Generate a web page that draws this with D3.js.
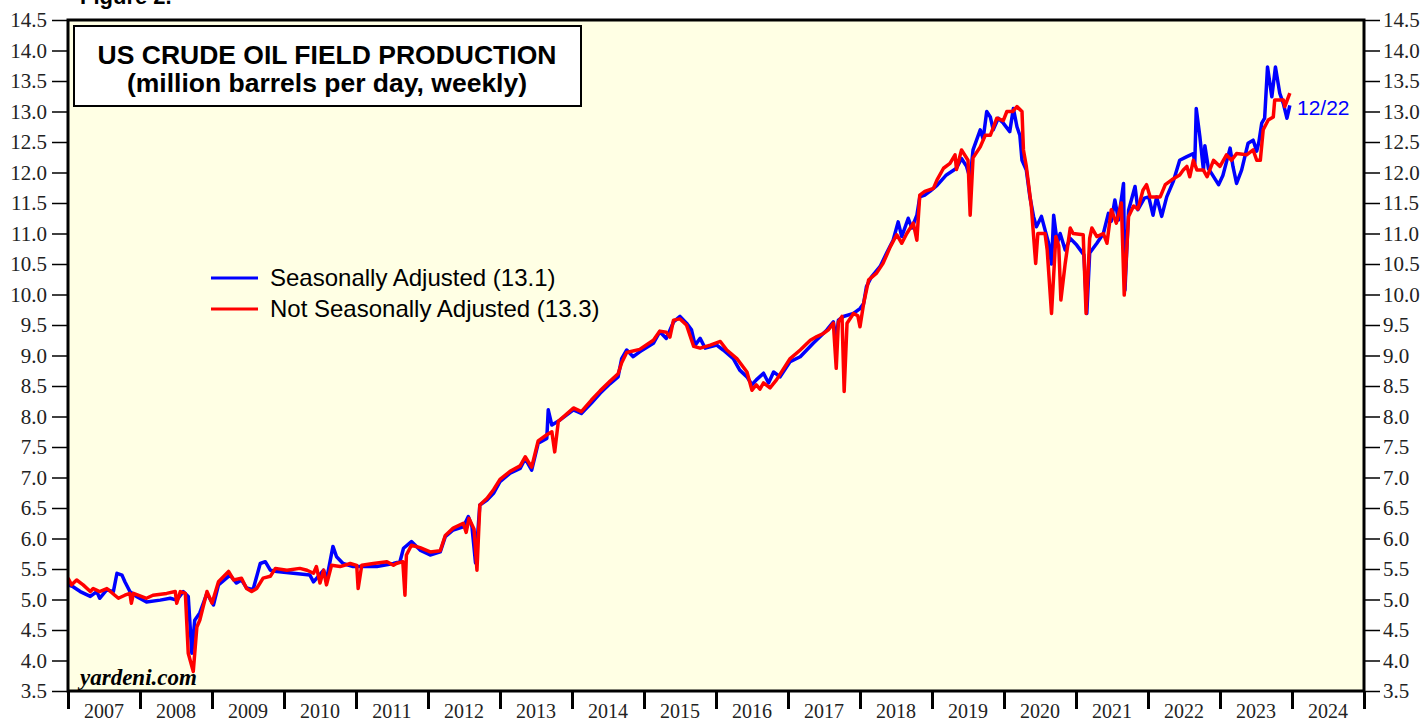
<!DOCTYPE html>
<html>
<head>
<meta charset="utf-8">
<script src="https://cdn.jsdelivr.net/npm/d3@7"></script>
<style>
  html, body { margin: 0; padding: 0; background: #fff; }
  svg { display: block; }
</style>
</head>
<body>
<div id="chart"></div>
<script>
// weekly-ish readings, [decimal year, million b/d]
var saPoints = [
  [2007.00,5.24],[2007.07,5.21],[2007.17,5.13],[2007.31,5.05],[2007.40,5.13],[2007.44,5.02],[2007.54,5.16],
  [2007.63,5.13],[2007.68,5.43],[2007.75,5.40],[2007.79,5.29],[2007.86,5.13],[2007.95,5.05],[2008.09,4.96],
  [2008.28,4.99],[2008.42,5.02],[2008.51,4.99],[2008.60,5.13],[2008.67,5.05],[2008.72,4.12],[2008.76,4.66],
  [2008.83,4.78],[2008.93,5.10],[2009.02,4.91],[2009.09,5.24],[2009.25,5.40],[2009.34,5.27],[2009.41,5.32],
  [2009.48,5.19],[2009.57,5.16],[2009.67,5.59],[2009.74,5.62],[2009.81,5.48],[2009.90,5.46],[2010.13,5.43],
  [2010.36,5.40],[2010.41,5.29],[2010.55,5.48],[2010.59,5.32],[2010.68,5.87],[2010.73,5.70],[2010.82,5.59],
  [2010.96,5.54],[2011.29,5.54],[2011.52,5.59],[2011.61,5.62],[2011.66,5.84],[2011.77,5.95],[2011.89,5.81],
  [2012.03,5.73],[2012.17,5.78],[2012.24,6.03],[2012.35,6.14],[2012.49,6.19],[2012.56,6.36],[2012.61,6.20],
  [2012.66,5.60],[2012.72,6.55],[2012.82,6.63],[2012.91,6.74],[2013.00,6.93],[2013.14,7.07],[2013.28,7.15],
  [2013.35,7.31],[2013.44,7.12],[2013.53,7.56],[2013.65,7.64],[2013.67,8.11],[2013.72,7.86],[2013.83,7.94],
  [2014.02,8.11],[2014.13,8.05],[2014.27,8.22],[2014.39,8.38],[2014.53,8.54],[2014.64,8.65],[2014.69,8.95],
  [2014.76,9.09],[2014.85,8.98],[2014.94,9.06],[2015.13,9.20],[2015.22,9.39],[2015.31,9.28],[2015.41,9.55],
  [2015.50,9.64],[2015.59,9.53],[2015.66,9.42],[2015.71,9.17],[2015.78,9.28],[2015.85,9.12],[2016.01,9.17],
  [2016.10,9.09],[2016.24,8.95],[2016.33,8.76],[2016.43,8.65],[2016.50,8.52],[2016.56,8.60],[2016.66,8.71],
  [2016.73,8.55],[2016.80,8.73],[2016.89,8.65],[2017.03,8.90],[2017.17,8.98],[2017.35,9.20],[2017.54,9.42],
  [2017.63,9.55],[2017.67,9.25],[2017.70,9.58],[2017.77,9.64],[2017.91,9.69],[2018.00,9.77],[2018.05,9.85],
  [2018.09,10.13],[2018.16,10.29],[2018.28,10.46],[2018.37,10.68],[2018.46,10.89],[2018.53,11.19],[2018.58,10.95],
  [2018.67,11.25],[2018.72,11.09],[2018.79,11.30],[2018.83,11.60],[2018.90,11.63],[2018.97,11.69],[2019.07,11.79],
  [2019.20,11.96],[2019.34,12.07],[2019.41,12.23],[2019.48,12.10],[2019.53,11.90],[2019.57,12.37],[2019.67,12.70],
  [2019.71,12.55],[2019.76,13.00],[2019.81,12.91],[2019.85,12.70],[2019.92,12.89],[2019.99,12.81],[2020.08,12.67],
  [2020.13,13.05],[2020.18,12.75],[2020.22,12.61],[2020.25,12.20],[2020.31,12.04],[2020.36,11.60],[2020.41,11.28],
  [2020.45,11.11],[2020.52,11.28],[2020.57,11.06],[2020.62,10.84],[2020.66,10.50],[2020.69,11.30],[2020.74,10.84],
  [2020.78,11.00],[2020.85,10.73],[2020.92,10.92],[2021.01,10.81],[2021.11,10.65],[2021.15,9.69],[2021.19,10.68],
  [2021.29,10.84],[2021.38,11.00],[2021.45,11.33],[2021.49,11.20],[2021.54,11.55],[2021.59,11.22],[2021.66,11.82],
  [2021.68,10.07],[2021.73,11.38],[2021.82,11.77],[2021.86,11.39],[2021.95,11.58],[2022.01,11.60],[2022.07,11.30],
  [2022.12,11.60],[2022.19,11.28],[2022.26,11.60],[2022.35,11.85],[2022.44,12.20],[2022.54,12.26],[2022.63,12.31],
  [2022.65,12.15],[2022.67,13.05],[2022.72,12.59],[2022.77,12.04],[2022.79,12.44],[2022.84,12.06],[2022.88,11.99],
  [2022.98,11.80],[2023.04,11.95],[2023.14,12.40],[2023.18,12.10],[2023.23,11.82],[2023.30,12.04],[2023.39,12.48],
  [2023.46,12.53],[2023.51,12.35],[2023.54,12.50],[2023.58,12.81],[2023.62,12.89],[2023.66,13.73],[2023.72,13.24],
  [2023.77,13.73],[2023.83,13.30],[2023.88,13.13],[2023.93,12.89],[2023.97,13.10]
];

var nsaPoints = [
  [2007.00,5.35],[2007.05,5.24],[2007.12,5.32],[2007.21,5.24],[2007.31,5.13],[2007.35,5.18],[2007.44,5.13],
  [2007.54,5.18],[2007.65,5.07],[2007.70,5.02],[2007.79,5.07],[2007.86,5.10],[2007.88,4.94],[2007.91,5.10],
  [2008.09,5.02],[2008.18,5.07],[2008.37,5.10],[2008.49,5.13],[2008.51,4.94],[2008.56,5.13],[2008.63,5.10],
  [2008.67,4.12],[2008.74,3.82],[2008.79,4.55],[2008.83,4.66],[2008.93,5.13],[2009.00,4.94],[2009.09,5.29],
  [2009.23,5.46],[2009.30,5.32],[2009.41,5.35],[2009.48,5.18],[2009.55,5.13],[2009.62,5.18],[2009.71,5.35],
  [2009.81,5.38],[2009.88,5.51],[2010.04,5.48],[2010.22,5.51],[2010.32,5.48],[2010.41,5.43],[2010.45,5.54],
  [2010.50,5.27],[2010.55,5.48],[2010.59,5.24],[2010.66,5.56],[2010.78,5.54],[2010.92,5.59],[2011.01,5.56],
  [2011.03,5.18],[2011.08,5.56],[2011.24,5.59],[2011.43,5.62],[2011.52,5.56],[2011.56,5.59],[2011.65,5.62],
  [2011.68,5.07],[2011.70,5.73],[2011.77,5.89],[2011.89,5.85],[2012.03,5.78],[2012.17,5.80],[2012.24,6.05],
  [2012.35,6.17],[2012.49,6.25],[2012.53,6.10],[2012.57,6.33],[2012.64,6.15],[2012.68,5.48],[2012.72,6.55],
  [2012.82,6.66],[2012.91,6.80],[2013.00,6.97],[2013.14,7.10],[2013.28,7.19],[2013.35,7.34],[2013.44,7.17],
  [2013.53,7.60],[2013.65,7.70],[2013.72,7.75],[2013.76,7.42],[2013.81,7.92],[2014.02,8.14],[2014.13,8.08],
  [2014.27,8.27],[2014.39,8.42],[2014.53,8.58],[2014.64,8.70],[2014.69,8.88],[2014.76,9.05],[2014.94,9.10],
  [2015.13,9.25],[2015.22,9.40],[2015.31,9.38],[2015.36,9.30],[2015.41,9.58],[2015.50,9.60],[2015.59,9.50],
  [2015.69,9.15],[2015.78,9.12],[2015.92,9.17],[2016.06,9.23],[2016.15,9.09],[2016.29,8.95],[2016.43,8.73],
  [2016.50,8.43],[2016.56,8.52],[2016.61,8.45],[2016.66,8.55],[2016.75,8.47],[2016.84,8.60],[2017.03,8.95],
  [2017.17,9.09],[2017.31,9.25],[2017.40,9.31],[2017.49,9.36],[2017.56,9.42],[2017.63,9.53],[2017.67,8.79],
  [2017.70,9.55],[2017.75,9.64],[2017.78,8.41],[2017.82,9.53],[2017.91,9.69],[2017.97,9.65],[2018.00,9.47],
  [2018.05,9.85],[2018.12,10.24],[2018.23,10.35],[2018.32,10.51],[2018.42,10.78],[2018.51,10.98],[2018.58,10.84],
  [2018.65,11.00],[2018.74,11.17],[2018.79,10.89],[2018.83,11.63],[2018.90,11.69],[2019.02,11.74],[2019.07,11.88],
  [2019.16,12.07],[2019.25,12.15],[2019.32,12.29],[2019.34,12.05],[2019.41,12.37],[2019.50,12.20],[2019.53,11.30],
  [2019.57,12.24],[2019.67,12.42],[2019.74,12.61],[2019.81,12.61],[2019.90,12.89],[2019.99,12.85],[2020.04,13.00],
  [2020.12,13.00],[2020.18,13.08],[2020.25,13.00],[2020.27,12.37],[2020.31,12.10],[2020.38,11.44],[2020.44,10.51],
  [2020.47,11.00],[2020.57,11.00],[2020.60,10.73],[2020.66,9.69],[2020.72,10.95],[2020.76,10.80],[2020.79,9.91],
  [2020.85,10.51],[2020.92,11.09],[2020.96,11.00],[2021.10,10.98],[2021.14,9.69],[2021.19,10.92],[2021.22,11.09],
  [2021.29,10.95],[2021.38,11.00],[2021.43,10.84],[2021.49,11.39],[2021.56,11.17],[2021.63,11.50],[2021.67,9.99],
  [2021.73,11.28],[2021.80,11.45],[2021.86,11.40],[2021.93,11.71],[2021.98,11.80],[2022.03,11.60],[2022.17,11.60],
  [2022.24,11.80],[2022.33,11.88],[2022.44,11.96],[2022.49,12.04],[2022.54,12.10],[2022.58,11.93],[2022.63,12.20],
  [2022.68,12.04],[2022.77,12.04],[2022.82,11.93],[2022.91,12.20],[2023.00,12.10],[2023.09,12.29],[2023.16,12.20],
  [2023.23,12.31],[2023.37,12.29],[2023.46,12.37],[2023.51,12.20],[2023.56,12.20],[2023.60,12.70],[2023.67,12.86],
  [2023.74,12.91],[2023.76,13.19],[2023.88,13.19],[2023.90,13.08],[2023.97,13.30]
];

var years = d3.range(2007, 2025);
var yTicks = d3.range(3.5, 14.51, 0.5);
var legendLabels = ['Seasonally Adjusted (13.1)', 'Not Seasonally Adjusted (13.3)'];
var titleLines = ['US CRUDE OIL FIELD PRODUCTION', '(million barrels per day, weekly)'];
var seriesColors = ['#0000ff', '#ff0000'];

(function () {
    var W = 1426, H = 721;
    var pLeft = 68, pRight = 1364, pTop = 20, pBottom = 691;
    var serif = '"Liberation Serif", "Times New Roman", serif';
    var sans = '"Liberation Sans", Arial, sans-serif';

    var svg = d3.select('#chart').append('svg')
        .attr('width', W)
        .attr('height', H);

    var x = d3.scaleLinear().domain([2007, 2025]).range([pLeft, pRight]);
    var y = d3.scaleLinear().domain([3.5, 14.5]).range([pBottom, pTop]);

    svg.append('rect')
        .attr('x', pLeft).attr('y', pTop)
        .attr('width', pRight - pLeft).attr('height', pBottom - pTop)
        .style('fill', '#ffffe4');

    svg.append('clipPath').attr('id', 'clip')
      .append('rect')
        .attr('x', pLeft).attr('y', pTop)
        .attr('width', pRight - pLeft).attr('height', pBottom - pTop);

    // y axes on both sides
    var yLeft = svg.append('g')
        .attr('transform', 'translate(' + pLeft + ',0)')
        .call(d3.axisLeft(y).tickValues(yTicks).tickSize(16).tickPadding(5).tickFormat(d3.format('.1f')));
    var yRight = svg.append('g')
        .attr('transform', 'translate(' + pRight + ',0)')
        .call(d3.axisRight(y).tickValues(yTicks).tickSize(16).tickPadding(3).tickFormat(d3.format('.1f')));

    [yLeft, yRight].forEach(function (g) {
        g.select('.domain').remove();
        g.selectAll('line').style('stroke', '#000').style('stroke-width', 1.5);
        g.selectAll('text')
            .style('font-family', serif)
            .style('font-size', '21px')
            .style('fill', '#222');
    });

    // x axis: ticks at year boundaries, labels mid-year
    var xAxis = svg.append('g')
        .attr('transform', 'translate(0,' + pBottom + ')')
        .call(d3.axisBottom(x).tickValues(d3.range(2007, 2026)).tickSize(18).tickFormat(''));
    xAxis.select('.domain').remove();
    xAxis.selectAll('line').style('stroke', '#000').style('stroke-width', 3);

    svg.append('g').selectAll('text')
        .data(years)
        .enter().append('text')
        .attr('x', function (d) { return x(d + 0.5); })
        .attr('y', 718)
        .attr('text-anchor', 'middle')
        .style('font-family', serif)
        .style('font-size', '20px')
        .style('fill', '#222')
        .text(function (d) { return d; });

    var line = d3.line()
        .x(function (d) { return x(d[0]); })
        .y(function (d) { return y(d[1]); });

    var plot = svg.append('g').attr('clip-path', 'url(#clip)');
    [saPoints, nsaPoints].forEach(function (pts, i) {
        plot.append('path')
            .datum(pts)
            .attr('d', line)
            .style('fill', 'none')
            .style('stroke', seriesColors[i])
            .style('stroke-width', 3.5)
            .style('stroke-linejoin', 'round');
    });

    // plot frame
    svg.append('rect')
        .attr('x', pLeft).attr('y', pTop)
        .attr('width', pRight - pLeft).attr('height', pBottom - pTop)
        .style('fill', 'none')
        .style('stroke', '#000')
        .style('stroke-width', 3);

    // title box
    svg.append('rect')
        .attr('x', 74).attr('y', 26)
        .attr('width', 507).attr('height', 80)
        .style('fill', '#fff')
        .style('stroke', '#000')
        .style('stroke-width', 2);

    svg.append('g').selectAll('text')
        .data(titleLines)
        .enter().append('text')
        .attr('x', 327)
        .attr('y', function (d, i) { return 64 + i * 28; })
        .attr('text-anchor', 'middle')
        .style('font-family', sans)
        .style('font-weight', 'bold')
        .style('font-size', '26.5px')
        .text(function (d) { return d; });

    svg.append('text')
        .attr('x', 80).attr('y', 4)
        .style('font-family', sans)
        .style('font-weight', 'bold')
        .style('font-size', '22px')
        .text('Figure 2.');

    // legend
    var legend = svg.append('g');
    legendLabels.forEach(function (lab, i) {
        var ly = 278 + i * 31;
        legend.append('line')
            .attr('x1', 211).attr('x2', 258)
            .attr('y1', ly).attr('y2', ly)
            .style('stroke', seriesColors[i])
            .style('stroke-width', 3);
        legend.append('text')
            .attr('x', 270).attr('y', ly + 8)
            .style('font-family', sans)
            .style('font-size', '24px')
            .text(lab);
    });

    svg.append('text')
        .attr('x', 1297).attr('y', 115)
        .style('font-family', sans)
        .style('font-size', '21px')
        .style('fill', '#0000ff')
        .text('12/22');

    svg.append('text')
        .attr('x', 80).attr('y', 685)
        .style('font-family', serif)
        .style('font-weight', 'bold')
        .style('font-style', 'italic')
        .style('font-size', '23px')
        .text('yardeni.com');
})();
</script>
</body>
</html>
